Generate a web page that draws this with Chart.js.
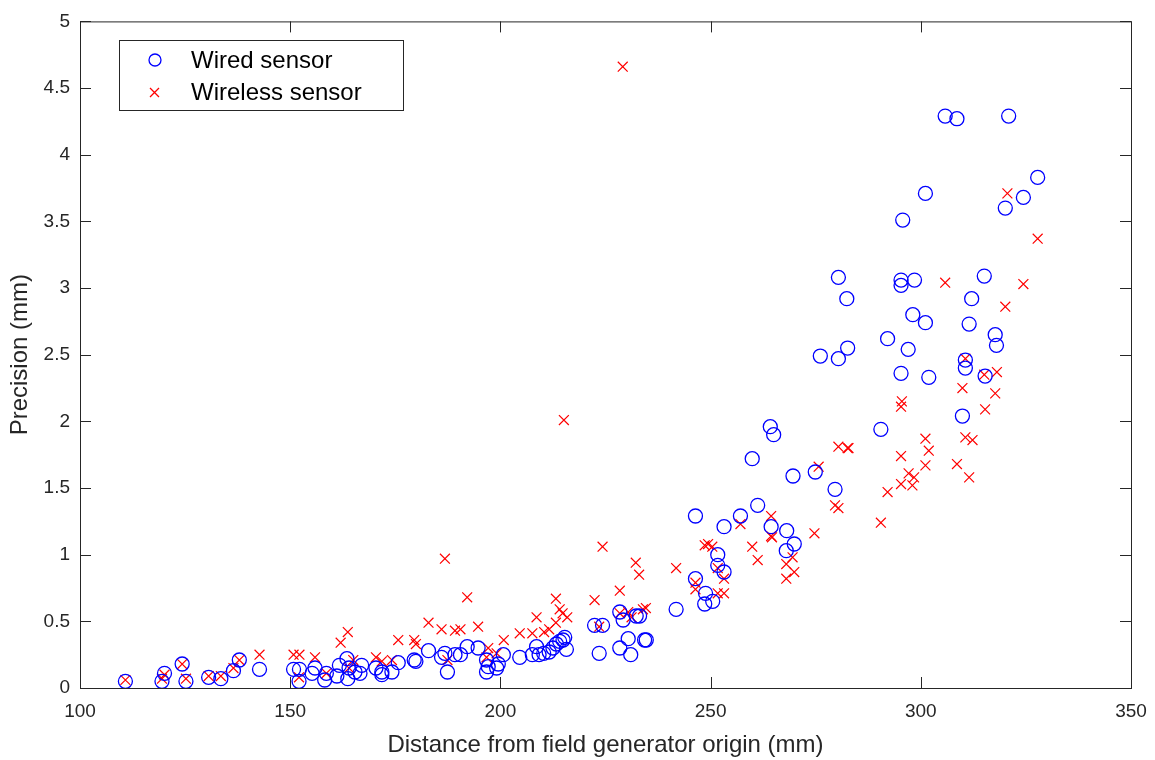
<!DOCTYPE html>
<html>
<head>
<meta charset="utf-8">
<script src="https://cdn.jsdelivr.net/npm/chart.js@4/dist/chart.umd.min.js"></script>
<style>
  body { margin: 0; background: #fff; }
  #wrap { width: 1155px; height: 760px; }
</style>
</head>
<body>
<div id="wrap"><canvas id="myChart" width="1155" height="760"></canvas></div>
<script>
// wired sensor (circles)
const wiredX = [110.8,119.5,120.1,124.3,125.2,130.6,133.5,136.5,137.9,142.7,150.8,152.2,152.1,155.2,155.9,158.2,158.6,161.1,161.7,163.5,
  163.7,164.0,165.4,166.6,167.0,170.4,171.8,171.8,174.2,175.7,179.5,179.9,182.9,186.0,186.8,187.4,189.2,190.5,192.1,194.7,
  196.7,197.1,196.7,199.1,199.5,200.7,204.6,207.6,208.6,209.2,210.3,211.6,212.5,213.3,214.1,214.9,215.3,215.7,222.4,224.3,
  223.5,228.4,229.2,232.3,233.1,230.4,228.4,231.0,234.3,234.7,241.8,246.4,246.4,248.8,248.6,250.5,251.7,251.7,253.2,253.2,
  257.1,261.2,264.4,268.1,269.9,268.0,276.1,280.4,282.6,292.1,297.0,295.3,301.9,301.1,290.5,264.2,265.0,259.9,269.6,274.9,
  279.6,327.8,324.4,320.1,301.1,295.7,295.3,295.3,298.5,315.1,312.1,298.1,311.5,317.7,318.0,310.6,310.6,315.3,309.9,320.9,
  305.8,308.6,280.4,282.4];
const wiredY = [0.05,0.05,0.11,0.18,0.05,0.08,0.07,0.13,0.21,0.14,0.14,0.14,0.05,0.11,0.15,0.06,0.11,0.09,0.17,0.22,
  0.07,0.15,0.12,0.11,0.17,0.15,0.12,0.10,0.12,0.19,0.21,0.20,0.28,0.23,0.26,0.12,0.25,0.25,0.31,0.30,
  0.21,0.16,0.12,0.15,0.18,0.25,0.23,0.25,0.31,0.25,0.26,0.27,0.30,0.33,0.35,0.36,0.38,0.29,0.47,0.47,
  0.26,0.57,0.51,0.54,0.54,0.37,0.30,0.25,0.36,0.36,0.59,1.29,0.82,0.71,0.63,0.65,1.00,0.92,0.87,1.21,
  1.29,1.37,1.21,1.18,1.08,1.03,2.49,2.47,2.55,2.62,2.54,2.36,2.33,2.74,1.94,1.96,1.90,1.72,1.59,1.62,
  1.49,3.83,3.68,3.60,3.71,3.51,3.06,3.02,3.06,3.09,2.92,2.80,2.73,2.65,2.57,2.46,2.40,2.34,2.04,4.29,
  4.29,4.27,3.08,2.92];

// wireless sensor (crosses)
const wirelessX = [110.8,119.5,120.1,124.3,125.2,130.6,133.5,136.5,137.9,142.7,150.8,152.2,152.1,155.9,158.6,162.0,163.7,165.0,164.0,170.4,
  171.8,174.2,175.7,179.5,179.9,182.9,186.0,186.8,187.4,189.2,190.5,192.1,194.7,197.1,196.7,199.1,200.8,204.6,207.6,208.6,
  210.4,211.6,213.2,213.2,214.1,214.8,215.9,215.1,222.4,224.3,223.5,228.4,228.4,230.4,231.2,233.9,234.6,232.2,233.0,229.1,
  241.8,246.4,246.4,248.6,249.4,250.4,251.7,253.2,251.7,253.2,257.1,259.9,261.2,264.4,264.4,264.6,269.5,268.0,269.9,268.0,
  274.7,280.4,282.6,282.8,301.1,301.9,301.1,295.3,297.1,298.4,295.3,298.0,292.1,275.7,279.6,280.4,290.5,295.5,295.3,320.6,
  327.8,305.8,324.4,320.1,310.6,315.1,318.1,309.9,317.7,315.3,310.6,312.3,308.6,311.5];
const wirelessY = [0.06,0.07,0.10,0.18,0.07,0.09,0.09,0.15,0.21,0.25,0.25,0.25,0.08,0.23,0.11,0.34,0.42,0.21,0.15,0.23,
  0.20,0.21,0.36,0.36,0.33,0.49,0.44,0.97,0.21,0.43,0.44,0.68,0.46,0.30,0.23,0.26,0.36,0.41,0.41,0.53,
  0.42,0.44,0.49,0.67,0.59,0.56,0.53,2.01,0.66,1.06,0.46,0.73,0.56,0.57,0.53,0.59,0.60,0.94,0.85,4.66,
  0.90,0.79,0.74,1.07,1.08,1.06,0.90,0.82,0.71,0.71,1.23,1.06,0.96,1.29,1.14,1.13,0.98,0.93,0.87,0.82,
  1.16,1.81,1.80,1.80,1.87,1.78,1.67,1.74,1.61,1.58,1.53,1.52,1.47,1.66,1.37,1.35,1.24,2.15,2.11,3.71,
  3.37,3.04,3.03,2.86,2.47,2.35,2.37,2.25,2.21,2.09,1.88,1.86,1.68,1.58];

const xTicks = [100,150,200,250,300,350];
const yTicks = [0,0.5,1,1.5,2,2.5,3,3.5,4,4.5,5];

const toPoints = (xs, ys) => xs.map((x, i) => ({x: x, y: ys[i]}));

const fontName = '"Liberation Sans", Arial, sans-serif';
const axisColor = '#262626';

// box, inward ticks and the legend, matlab style
const boxPlugin = {
  id: 'boxPlugin',
  afterDraw(chart) {
    const c = chart.ctx;
    const a = chart.chartArea;
    const xs = chart.scales.x, ys = chart.scales.y;
    c.save();
    c.strokeStyle = axisColor;
    c.lineWidth = 1;
    c.strokeRect(a.left + 0.5, a.top + 0.5, a.right - a.left, a.bottom - a.top);
    c.beginPath();
    xTicks.forEach(v => {
      const px = Math.round(xs.getPixelForValue(v)) + 0.5;
      c.moveTo(px, a.bottom); c.lineTo(px, a.bottom - 11);
      c.moveTo(px, a.top); c.lineTo(px, a.top + 11);
    });
    yTicks.forEach(v => {
      const py = Math.round(ys.getPixelForValue(v)) + 0.5;
      c.moveTo(a.left, py); c.lineTo(a.left + 11, py);
      c.moveTo(a.right, py); c.lineTo(a.right - 11, py);
    });
    c.stroke();

    // legend
    c.fillStyle = '#fff';
    c.fillRect(119.5, 40.5, 284, 70);
    c.strokeRect(119.5, 40.5, 284, 70);
    c.lineWidth = 1.3;
    c.strokeStyle = '#0000ff';
    c.beginPath();
    c.arc(155, 60, 6, 0, Math.PI * 2);
    c.stroke();
    c.strokeStyle = '#ff0000';
    c.beginPath();
    c.moveTo(150, 88); c.lineTo(159, 97);
    c.moveTo(159, 88); c.lineTo(150, 97);
    c.stroke();
    c.fillStyle = '#000';
    c.font = '24px ' + fontName;
    c.textBaseline = 'middle';
    c.fillText('Wired sensor', 191, 61);
    c.fillText('Wireless sensor', 191, 93);
    c.restore();
  }
};

const ctx = document.getElementById('myChart');

const myChart = new Chart(ctx, {
  type: 'scatter',
  data: {
    datasets: [{
      label: 'Wired sensor',
      data: toPoints(wiredX, wiredY),
      pointStyle: 'circle',
      pointRadius: 7,
      borderColor: '#0000ff',
      backgroundColor: 'rgba(0,0,0,0)',
      borderWidth: 1.3
    }, {
      label: 'Wireless sensor',
      data: toPoints(wirelessX, wirelessY),
      pointStyle: 'crossRot',
      pointRadius: 7,
      borderColor: '#ff0000',
      backgroundColor: '#ff0000',
      borderWidth: 1.2
    }]
  },
  options: {
    responsive: false,
    animation: false,
    layout: { padding: { top: 16, right: 24, left: 0, bottom: 0 } },
    scales: {
      x: {
        type: 'linear',
        min: 100,
        max: 350,
        afterFit: s => { s.height = 72; s.paddingLeft = 0; s.paddingRight = 0; },
        afterBuildTicks: s => { s.ticks = xTicks.map(v => ({value: v})); },
        grid: { display: false, drawTicks: false },
        border: { display: false },
        ticks: { color: axisColor, padding: 12, font: { family: fontName, size: 19 } },
        title: { display: true, text: 'Distance from field generator origin (mm)', color: axisColor,
                 padding: { top: 4, bottom: 0 }, font: { family: fontName, size: 24 } }
      },
      y: {
        type: 'linear',
        min: 0,
        max: 5,
        afterFit: s => { s.width = 80; },
        afterBuildTicks: s => { s.ticks = yTicks.map(v => ({value: v})); },
        grid: { display: false, drawTicks: false },
        border: { display: false },
        ticks: { color: axisColor, padding: 10, font: { family: fontName, size: 19 },
                 callback: v => String(v) },
        title: { display: true, text: 'Precision (mm)', color: axisColor,
                 padding: { top: 6, bottom: 0 }, font: { family: fontName, size: 24 } }
      }
    },
    plugins: {
      legend: { display: false },
      tooltip: { enabled: false }
    }
  },
  plugins: [boxPlugin]
});
</script>
</body>
</html>
